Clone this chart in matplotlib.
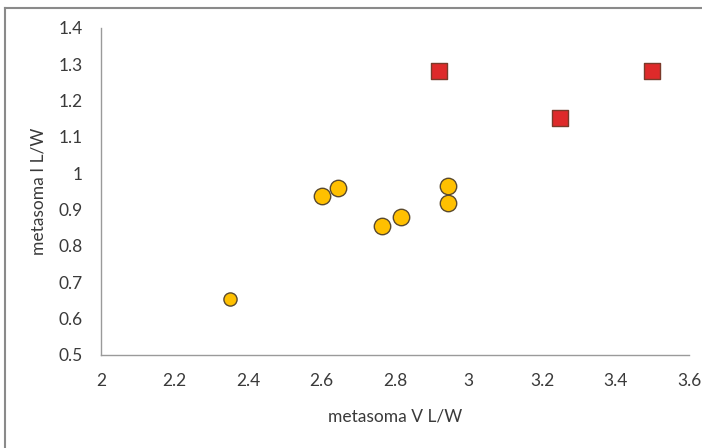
import numpy as np
import matplotlib.pyplot as plt
from matplotlib.lines import Line2D

# circle series (yellow)
circ_x = [2.35, 2.60, 2.645, 2.765, 2.815, 2.945, 2.945]
circ_y = [0.655, 0.937, 0.960, 0.855, 0.880, 0.965, 0.919]
# square series (red)
sq_x = [2.92, 3.25, 3.50]
sq_y = [1.283, 1.152, 1.283]

xticks = [2, 2.2, 2.4, 2.6, 2.8, 3, 3.2, 3.4, 3.6]
yticks = [0.5, 0.6, 0.7, 0.8, 0.9, 1, 1.1, 1.2, 1.3, 1.4]

plt.rcParams['font.family'] = ['Lato', 'DejaVu Sans']

fig = plt.figure(figsize=(7.02, 4.48), dpi=100)
ax = fig.add_axes([0.1439, 0.2076, 0.8376, 0.7299])

# first point is drawn a bit smaller in the original
ax.scatter(circ_x[:1], circ_y[:1], s=90, marker='o', color='#FFC000',
           edgecolor='#5a4a2e', linewidth=1.0, zorder=3)
ax.scatter(circ_x[1:], circ_y[1:], s=140, marker='o', color='#FFC000',
           edgecolor='#5a4a2e', linewidth=1.0, zorder=3)
ax.scatter(sq_x, sq_y, s=125, marker='s', color='#DE2A2A',
           edgecolor='#7a3a2a', linewidth=1.0, zorder=3)

ax.set_xlim(2, 3.6)
ax.set_ylim(0.5, 1.4)
ax.set_xticks(xticks)
ax.set_xticklabels([f'{v:g}' for v in xticks])
ax.set_yticks(yticks)
ax.set_yticklabels([f'{v:g}' for v in yticks])
ax.tick_params(length=0, labelsize=12.5, colors='#3a3a3a')
ax.tick_params(axis='x', pad=13)
ax.tick_params(axis='y', pad=13)

for s in ['top', 'right']:
    ax.spines[s].set_visible(False)
for s in ['left', 'bottom']:
    ax.spines[s].set_color('#9a9a9a')
    ax.spines[s].set_linewidth(1.0)

ax.set_xlabel('metasoma V L/W', fontsize=12.5, color='#3a3a3a', labelpad=14)
ax.set_ylabel('metasoma I L/W', fontsize=12.5, color='#3a3a3a', labelpad=9)

# outer frame (left and top edges are visible in the picture)
fig.add_artist(Line2D([0.0071, 0.0071], [0, 0.982], color='#8a8a8a', lw=1.5))
fig.add_artist(Line2D([0.0071, 1], [0.982, 0.982], color='#8a8a8a', lw=1.5))

fig.savefig('out.png', dpi=100)
